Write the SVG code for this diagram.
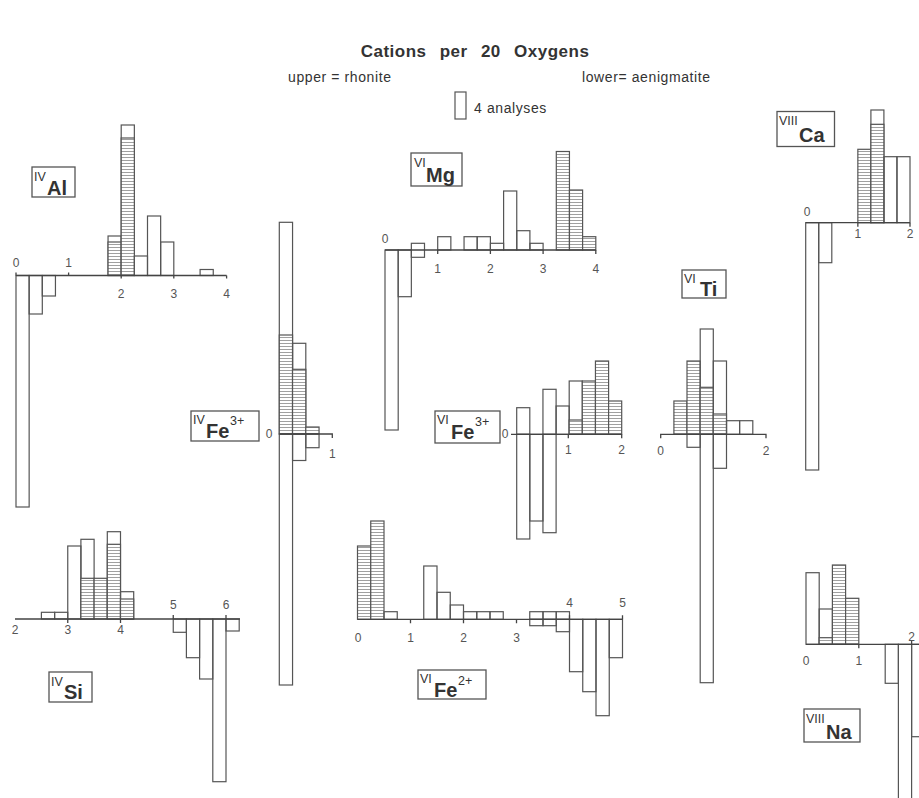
<svg xmlns="http://www.w3.org/2000/svg" width="919" height="798" viewBox="0 0 919 798">
<defs>
<pattern id="hatch" patternUnits="userSpaceOnUse" width="4" height="3">
<rect width="4" height="3" fill="#fff"/>
<line x1="0" y1="1.5" x2="4" y2="1.5" stroke="#888" stroke-width="0.8"/>
</pattern>
</defs>
<style>
.ax{stroke:#444;stroke-width:1.3;fill:none}
.o{fill:none;stroke:#555;stroke-width:1.2}
.h{fill:url(#hatch);stroke:#555;stroke-width:1.2}
.n{font-family:"Liberation Sans",Arial,sans-serif;font-size:12px;fill:#555;text-anchor:middle}
.box{fill:none;stroke:#555;stroke-width:1.3}
.sup{font-family:"Liberation Sans",Arial,sans-serif;font-size:12.5px;fill:#333}
.el{font-family:"Liberation Sans",Arial,sans-serif;font-size:20px;font-weight:bold;fill:#333}
.t{font-family:"Liberation Sans",Arial,sans-serif;fill:#333}
</style>
<rect width="919" height="798" fill="#fff"/>

<g id="header">
<text class="t" x="475" y="57" font-size="17" font-weight="bold" text-anchor="middle" word-spacing="8" letter-spacing="0.5">Cations per 20 Oxygens</text>
<text class="t" x="288" y="82" font-size="14" letter-spacing="0.6">upper = rhonite</text>
<text class="t" x="582" y="82" font-size="14" letter-spacing="0.6">lower= aenigmatite</text>
<rect class="o" x="455" y="92" width="11" height="27"/>
<text class="t" x="474" y="113" font-size="14" letter-spacing="0.6">4 analyses</text>
</g>

<g id="IV-Al">
<rect class="box" x="32" y="167" width="43" height="30"/>
<text class="sup" x="34" y="181">IV</text><text class="el" x="47" y="195">Al</text>
<rect class="o" x="16" y="275.5" width="13.15" height="231.5"/>
<rect class="o" x="29.15" y="275.5" width="13.15" height="38.5"/>
<rect class="o" x="42.3" y="275.5" width="13.15" height="20.5"/>
<rect class="o" x="108.05" y="236" width="13.15" height="39.5"/>
<rect class="h" x="108.05" y="242" width="13.15" height="33.5"/>
<rect class="o" x="121.2" y="125" width="13.15" height="150.5"/>
<rect class="h" x="121.2" y="138" width="13.15" height="137.5"/>
<rect class="o" x="134.35" y="256" width="13.15" height="19.5"/>
<rect class="o" x="147.5" y="216" width="13.15" height="59.5"/>
<rect class="o" x="160.65" y="242" width="13.15" height="33.5"/>
<rect class="o" x="200.1" y="269.5" width="13.15" height="6"/>
<path class="ax" d="M16 275.5H226.6M16 275.5v-3M68.6 275.5v-3M121.2 275.5v3M173.8 275.5v3M226.6 275.5v3"/>
<text class="n" x="16" y="267">0</text><text class="n" x="68.6" y="267">1</text>
<text class="n" x="121.2" y="298">2</text><text class="n" x="173.8" y="298">3</text><text class="n" x="226.6" y="298">4</text>
</g>

<g id="IV-Fe3">
<rect class="box" x="191" y="411" width="68" height="30"/>
<text class="sup" x="193" y="424">IV</text><text class="el" x="206" y="438">Fe</text><text class="sup" x="230" y="425">3+</text>
<rect class="o" x="279.3" y="222.3" width="13.25" height="211.7"/>
<rect class="h" x="279.3" y="335" width="13.25" height="99"/>
<rect class="o" x="292.55" y="343.3" width="13.25" height="90.7"/>
<rect class="h" x="292.55" y="369.3" width="13.25" height="64.7"/>
<rect class="h" x="305.8" y="427" width="13.25" height="7"/>
<rect class="o" x="279.3" y="434" width="13.25" height="251"/>
<rect class="o" x="292.55" y="434" width="13.25" height="26.5"/>
<rect class="o" x="305.8" y="434" width="13.25" height="13.7"/>
<path class="ax" d="M279.3 434H332.3v4"/>
<text class="n" x="269" y="438">0</text><text class="n" x="332.3" y="458">1</text>
</g>

<g id="VI-Mg">
<rect class="box" x="411" y="153" width="51" height="33"/>
<text class="sup" x="414" y="167">VI</text><text class="el" x="426" y="182">Mg</text>
<rect class="o" x="385" y="250" width="13.2" height="180"/>
<rect class="o" x="398.2" y="250" width="13.15" height="46.7"/>
<rect class="o" x="411.35" y="243.3" width="13.15" height="14"/>
<rect class="o" x="437.7" y="236.7" width="13.15" height="13.3"/>
<rect class="o" x="464.05" y="236.7" width="13.15" height="13.3"/>
<rect class="o" x="477.2" y="236.7" width="13.2" height="13.3"/>
<rect class="o" x="490.4" y="243.3" width="13.2" height="6.7"/>
<rect class="o" x="503.6" y="191" width="13.15" height="59"/>
<rect class="o" x="516.75" y="230.7" width="13.15" height="19.3"/>
<rect class="o" x="529.9" y="243.3" width="13.2" height="6.7"/>
<rect class="h" x="556.3" y="151.5" width="13.15" height="98.5"/>
<rect class="h" x="569.45" y="190" width="13.15" height="60"/>
<rect class="h" x="582.6" y="236.7" width="13.2" height="13.3"/>
<path class="ax" d="M385 250H595.8M437.7 250v4M490.4 250v4M543.1 250v4M595.8 250v4"/>
<text class="n" x="385" y="243">0</text><text class="n" x="437.7" y="273">1</text><text class="n" x="490.4" y="273">2</text>
<text class="n" x="543.1" y="273">3</text><text class="n" x="595.8" y="273">4</text>
</g>

<g id="VI-Fe3">
<rect class="box" x="435" y="411" width="65" height="32"/>
<text class="sup" x="437" y="424">VI</text><text class="el" x="451" y="439">Fe</text><text class="sup" x="475" y="426">3+</text>
<rect class="o" x="516.7" y="407.7" width="13.1" height="26.6"/>
<rect class="o" x="542.95" y="389.3" width="13.15" height="45"/>
<rect class="o" x="556.1" y="406" width="13.1" height="28.3"/>
<rect class="o" x="569.2" y="381" width="13.1" height="53.3"/>
<rect class="h" x="569.2" y="420" width="13.1" height="14.3"/>
<rect class="h" x="582.3" y="381" width="13.15" height="53.3"/>
<rect class="h" x="595.45" y="361" width="13.15" height="73.3"/>
<rect class="h" x="608.6" y="401" width="13.1" height="33.3"/>
<rect class="o" x="516.7" y="434.3" width="13.1" height="104.7"/>
<rect class="o" x="529.8" y="434.3" width="13.15" height="86.7"/>
<rect class="o" x="542.95" y="434.3" width="13.15" height="98.4"/>
<path class="ax" d="M511 434.3H621.7M568.3 434.3v4M621.7 434.3v4"/>
<text class="n" x="505" y="438">0</text><text class="n" x="568.3" y="454">1</text><text class="n" x="621.7" y="454">2</text>
</g>

<g id="VI-Ti">
<rect class="box" x="682" y="270" width="44" height="28"/>
<text class="sup" x="684" y="283">VI</text><text class="el" x="700" y="296">Ti</text>
<rect class="h" x="673.9" y="401" width="13.1" height="33.3"/>
<rect class="h" x="687" y="361" width="13.2" height="73.3"/>
<rect class="o" x="700.2" y="329" width="13.1" height="105.3"/>
<rect class="h" x="700.2" y="387.3" width="13.1" height="47"/>
<rect class="o" x="713.3" y="361" width="13.2" height="73.3"/>
<rect class="h" x="713.3" y="414" width="13.2" height="20.3"/>
<rect class="o" x="726.5" y="420.7" width="13.1" height="13.6"/>
<rect class="o" x="739.6" y="420.7" width="13.2" height="13.6"/>
<rect class="o" x="687" y="434.3" width="13.2" height="13"/>
<rect class="o" x="700.2" y="434.3" width="13.1" height="248.4"/>
<rect class="o" x="713.3" y="434.3" width="13.2" height="34"/>
<path class="ax" d="M660.7 438.3v-4H766v4"/>
<text class="n" x="660.7" y="455">0</text><text class="n" x="766" y="455">2</text>
</g>

<g id="VIII-Ca">
<rect class="box" x="777" y="111.5" width="57.5" height="35"/>
<text class="sup" x="779" y="125">VIII</text><text class="el" x="799" y="142">Ca</text>
<rect class="h" x="857.85" y="149.3" width="13.05" height="73.4"/>
<rect class="o" x="870.9" y="110" width="13" height="112.7"/>
<rect class="h" x="870.9" y="124.3" width="13" height="98.4"/>
<rect class="o" x="883.9" y="156.7" width="13.05" height="66"/>
<rect class="o" x="896.95" y="156.7" width="13.05" height="66"/>
<rect class="o" x="805.7" y="222.7" width="13" height="247.3"/>
<rect class="o" x="818.7" y="222.7" width="13.1" height="40"/>
<path class="ax" d="M805.7 222.7H910M857.85 222.7v4M910 222.7v4"/>
<text class="n" x="807" y="216">0</text><text class="n" x="857.85" y="238">1</text><text class="n" x="910" y="238">2</text>
</g>

<g id="IV-Si">
<rect class="box" x="49" y="672" width="43" height="30"/>
<text class="sup" x="51" y="686">IV</text><text class="el" x="64" y="699">Si</text>
<rect class="o" x="41.4" y="612.3" width="13.2" height="6.7"/>
<rect class="o" x="54.6" y="612.3" width="13.15" height="6.7"/>
<rect class="o" x="67.75" y="546" width="13.15" height="73"/>
<rect class="o" x="80.9" y="539.3" width="13.2" height="79.7"/>
<rect class="h" x="80.9" y="578.3" width="13.2" height="40.7"/>
<rect class="h" x="94.1" y="578.3" width="13.2" height="40.7"/>
<rect class="o" x="107.3" y="531.7" width="13.2" height="87.3"/>
<rect class="h" x="107.3" y="544.3" width="13.2" height="74.7"/>
<rect class="o" x="120.5" y="591.7" width="13.2" height="27.3"/>
<rect class="h" x="120.5" y="599" width="13.2" height="20"/>
<rect class="o" x="173.25" y="619" width="13.15" height="13.3"/>
<rect class="o" x="186.4" y="619" width="13.2" height="38.7"/>
<rect class="o" x="199.6" y="619" width="13.2" height="60"/>
<rect class="o" x="212.8" y="619" width="13.2" height="162.7"/>
<rect class="o" x="226" y="619" width="13.2" height="12"/>
<path class="ax" d="M15 619H240M67.75 619v4M120.5 619v4M173.25 619v-4M226 619v-4"/>
<text class="n" x="15" y="634">2</text><text class="n" x="67.75" y="634">3</text><text class="n" x="120.5" y="634">4</text>
<text class="n" x="173.25" y="609">5</text><text class="n" x="226" y="609">6</text>
</g>

<g id="VI-Fe2">
<rect class="box" x="418" y="670" width="68" height="29"/>
<text class="sup" x="420" y="683">VI</text><text class="el" x="434" y="697">Fe</text><text class="sup" x="458" y="685">2+</text>
<rect class="h" x="357.5" y="546" width="13.25" height="73.3"/>
<rect class="h" x="370.75" y="521" width="13.25" height="98.3"/>
<rect class="o" x="384" y="611.7" width="13.25" height="7.6"/>
<rect class="o" x="423.75" y="566" width="13.25" height="53.3"/>
<rect class="o" x="437" y="592.3" width="13.25" height="27"/>
<rect class="o" x="450.25" y="605" width="13.25" height="14.3"/>
<rect class="o" x="463.5" y="611.7" width="13.25" height="7.6"/>
<rect class="o" x="476.75" y="611.7" width="13.25" height="7.6"/>
<rect class="o" x="490" y="611.7" width="13.25" height="7.6"/>
<rect class="o" x="529.75" y="611.7" width="13.25" height="7.6"/>
<rect class="o" x="543" y="611.7" width="13.25" height="7.6"/>
<rect class="o" x="556.25" y="611.7" width="13.25" height="7.6"/>
<rect class="o" x="529.75" y="619.3" width="13.25" height="6.4"/>
<rect class="o" x="543" y="619.3" width="13.25" height="6.4"/>
<rect class="o" x="556.25" y="619.3" width="13.25" height="12.4"/>
<rect class="o" x="569.5" y="619.3" width="13.25" height="52.4"/>
<rect class="o" x="582.75" y="619.3" width="13.25" height="72.4"/>
<rect class="o" x="596" y="619.3" width="13.25" height="96.4"/>
<rect class="o" x="609.25" y="619.3" width="13.25" height="38.4"/>
<path class="ax" d="M357.5 619.3H622.5M410.5 619.3v4M463.5 619.3v4M516.5 619.3v4M569.5 619.3v-4M622.5 619.3v-4"/>
<text class="n" x="358" y="642">0</text><text class="n" x="410.5" y="642">1</text><text class="n" x="463.5" y="642">2</text><text class="n" x="516.5" y="642">3</text>
<text class="n" x="569.5" y="607">4</text><text class="n" x="622.5" y="607">5</text>
</g>

<g id="VIII-Na">
<rect class="box" x="804" y="709" width="56" height="33"/>
<text class="sup" x="806" y="723">VIII</text><text class="el" x="826" y="739">Na</text>
<rect class="o" x="806" y="572.7" width="13.2" height="71.6"/>
<rect class="o" x="819.2" y="609" width="13.2" height="35.3"/>
<rect class="h" x="819.2" y="637.7" width="13.2" height="6.6"/>
<rect class="h" x="832.4" y="565" width="13.2" height="79.3"/>
<rect class="h" x="845.6" y="598.3" width="13.2" height="46"/>
<rect class="o" x="885.2" y="644.3" width="13.2" height="39"/>
<rect class="o" x="898.4" y="644.3" width="13.2" height="170"/>
<rect class="o" x="911.6" y="644.3" width="13.2" height="92.4"/>
<path class="ax" d="M806 644.3H919M858.8 644.3v4M911.6 644.3v-4"/>
<text class="n" x="806" y="665">0</text><text class="n" x="858.8" y="665">1</text><text class="n" x="911.6" y="641">2</text>
</g>
</svg>
